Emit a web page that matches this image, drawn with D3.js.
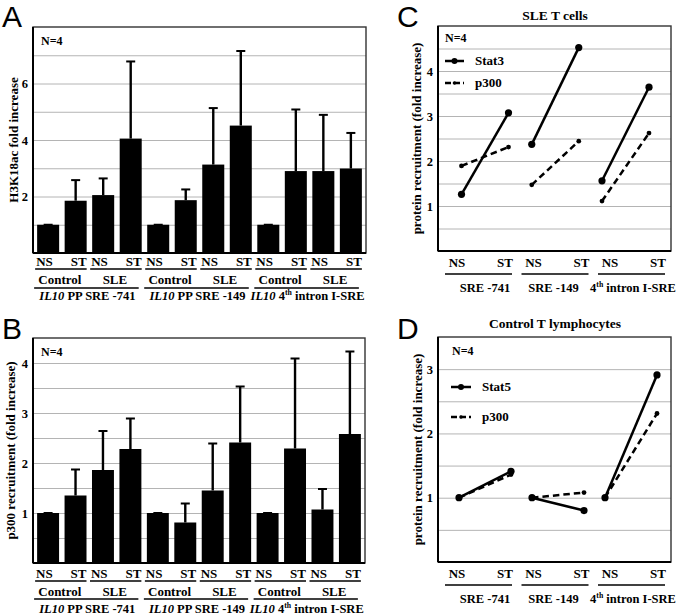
<!DOCTYPE html>
<html><head><meta charset="utf-8">
<script src="https://cdn.jsdelivr.net/npm/d3@7"></script>
<style>body{margin:0;background:#fff} svg{display:block}</style>
</head><body><svg id="chart" width="680" height="615"></svg>
<script>
// ---------- DATA ----------
const barLabels = ["NS","ST","NS","ST","NS","ST","NS","ST","NS","ST","NS","ST"];
const conditions = ["Control","SLE","Control","SLE","Control","SLE"];
const gene = "IL10";
const regionsAB = ["PP SRE -741","PP SRE -149","4th intron I-SRE"];
const regionsCD = ["SRE -741","SRE -149","4th intron I-SRE"];
const pointLabels = ["NS","ST"];

const h3k18acMean = [1.00, 1.85, 2.05, 4.05, 1.00, 1.87, 3.13, 4.51, 1.00, 2.90, 2.90, 2.99];
const h3k18acErr  = [0.00, 0.73, 0.59, 2.73, 0.00, 0.38, 2.00, 2.64, 0.00, 2.18, 1.99, 1.26];
const h3k18acTicks = [2, 4, 6];

const p300BarMean = [1.00, 1.35, 1.86, 2.28, 1.00, 0.81, 1.45, 2.41, 1.00, 2.29, 1.07, 2.58];
const p300BarErr  = [0.00, 0.52, 0.78, 0.61, 0.00, 0.38, 0.94, 1.12, 0.00, 1.80, 0.41, 1.65];
const p300BarTicks = [1, 2, 3, 4];

const sleStat3 = [1.26, 3.07, 2.37, 4.52, 1.56, 3.64];
const sleP300  = [1.89, 2.31, 1.47, 2.44, 1.11, 2.62];
const sleTicks = [1, 2, 3, 4];

const ctrlStat5 = [1.00, 1.41, 1.00, 0.80, 1.00, 2.91];
const ctrlP300  = [1.00, 1.36, 1.00, 1.08, 1.00, 2.31];
const ctrlTicks = [1, 2, 3];

// ---------- DRAWING ----------
const svg = d3.select("#chart");
const SERIF = "'Liberation Serif','Times New Roman',serif";
const SANS = "'Liberation Sans',Arial,Helvetica,sans-serif";

function txt(g, x, y, s, size, anchor) {
  return g.append("text").attr("x", x).attr("y", y).text(s)
    .attr("font-family", SERIF).attr("font-weight", "bold")
    .attr("font-size", size).attr("text-anchor", anchor || "middle").attr("fill", "#000");
}
function regionText(g, x, y, s, size, withGene) {
  const t = g.append("text").attr("x", x).attr("y", y)
    .attr("font-family", SERIF).attr("font-weight", "bold")
    .attr("font-size", size).attr("text-anchor", "middle").attr("fill", "#000");
  if (withGene) {
    t.append("tspan").attr("font-style", "italic").text(gene + " ");
  }
  const m = s.match(/^(\d+)th (.*)$/);
  if (m) {
    t.append("tspan").text(m[1]);
    t.append("tspan").attr("font-size", size * 0.62).attr("dy", -5).text("th");
    t.append("tspan").attr("dy", 5).text(" " + m[2]);
  } else {
    t.append("tspan").text(s);
  }
  return t;
}
function hline(g, x1, x2, y, w) {
  g.append("line").attr("x1", x1).attr("x2", x2).attr("y1", y).attr("y2", y)
    .attr("stroke", "#000").attr("stroke-width", w || 1.5);
}
function letter(x, y, s) {
  svg.append("text").attr("x", x).attr("y", y).text(s)
    .attr("font-family", SANS).attr("font-size", 30).attr("fill", "#000");
}
function frame(g, l, t, r, b) {
  g.append("rect").attr("x", l).attr("y", t).attr("width", r - l).attr("height", b - t)
    .attr("fill", "none").attr("stroke", "#333").attr("stroke-width", 1.4);
  g.append("line").attr("x1", l).attr("x2", l).attr("y1", t).attr("y2", b).attr("stroke", "#000").attr("stroke-width", 2);
  g.append("line").attr("x1", l).attr("x2", r).attr("y1", b).attr("y2", b).attr("stroke", "#000").attr("stroke-width", 2);
}
function yAxes(g, y, l, r, ymax, step, ticks) {
  g.append("g").attr("transform", `translate(${l},0)`)
    .call(d3.axisLeft(y).tickValues(d3.range(step, ymax - 1e-9, step)).tickSize(-(r - l)).tickFormat(""))
    .call(a => a.select(".domain").remove())
    .call(a => a.selectAll("line").attr("stroke", "#b4b4b4").attr("stroke-width", 1));
  g.append("g").attr("transform", `translate(${l},0)`)
    .call(d3.axisLeft(y).tickValues(ticks).tickSize(0).tickPadding(5).tickFormat(d3.format("d")))
    .call(a => a.select(".domain").remove())
    .call(a => a.selectAll("text").attr("font-family", SERIF).attr("font-weight", "bold")
      .attr("font-size", 12.5).attr("fill", "#000"));
}
function yLabel(g, x, y, s) {
  g.append("text").attr("transform", `translate(${x},${y}) rotate(-90)`).text(s)
    .attr("font-family", SERIF).attr("font-weight", "bold").attr("font-size", 13)
    .attr("text-anchor", "middle").attr("fill", "#000");
}

function barPanel(o) {
  const g = svg.append("g");
  const y = d3.scaleLinear().domain([0, o.ymax]).range([o.b, o.t]);
  const x = d3.scaleBand().domain(d3.range(o.mean.length)).range([o.l, o.r])
    .paddingInner(0.2).paddingOuter(0.15);
  const bw = x.bandwidth();
  yAxes(g, y, o.l, o.r, o.ymax, o.step, o.ticks);
  g.selectAll("rect.bar").data(o.mean).join("rect").attr("class", "bar")
    .attr("x", (d, i) => x(i)).attr("y", d => y(d)).attr("width", bw)
    .attr("height", d => o.b - y(d)).attr("fill", "#000");
  const eg = g.selectAll("g.err").data(o.mean).join("g").attr("class", "err");
  eg.append("line").attr("x1", (d, i) => x(i) + bw / 2).attr("x2", (d, i) => x(i) + bw / 2)
    .attr("y1", d => y(d)).attr("y2", (d, i) => y(d + o.err[i]))
    .attr("stroke", "#000").attr("stroke-width", 2.4);
  eg.append("line").attr("x1", (d, i) => x(i) + bw / 2 - 4.5).attr("x2", (d, i) => x(i) + bw / 2 + 4.5)
    .attr("y1", (d, i) => y(d + o.err[i])).attr("y2", (d, i) => y(d + o.err[i]))
    .attr("stroke", "#000").attr("stroke-width", 2);
  frame(g, o.l, o.t, o.r, o.b);
  txt(g, o.l + 8, o.t + 18, "N=4", 12, "start");
  yLabel(g, o.labX, (o.t + o.b) / 2, o.yLabel);
  // x labels
  barLabels.forEach((s, i) => {
    if (i % 2 === 0) txt(g, x(i) - 1, o.b + o.off[0], s, 13, "start");
    else txt(g, x(i) + bw, o.b + o.off[0], s, 13, "end");
  });
  conditions.forEach((s, p) => {
    const x1 = x(2 * p), x2 = x(2 * p + 1) + bw;
    hline(g, x1 - 2, x2, o.b + o.off[1]);
    txt(g, (x1 + x2) / 2 - 2, o.b + o.off[2], s, 13);
  });
  regionsAB.forEach((s, k) => {
    const x1 = x(4 * k), x2 = x(4 * k + 3) + bw;
    hline(g, x1 - 3, x2 - 3, o.b + o.off[3]);
    regionText(g, (x1 + x2) / 2 - 2, o.b + o.off[4], s, 12.5, true);
  });
}

function linePanel(o) {
  const g = svg.append("g");
  const y = d3.scaleLinear().domain([0, o.ymax]).range([o.b, o.t]);
  const gx = d3.scalePoint().domain(d3.range(regionsCD.length)).range(o.groupRange);
  const px = i => gx(Math.floor(i / 2)) + (i % 2 === 0 ? -o.half : o.half);
  const lx = d3.scalePoint().domain(d3.range(regionsCD.length)).range([481, 634]);
  yAxes(g, y, o.l, o.r, o.ymax, 0.5, o.ticks);
  frame(g, o.l, o.t, o.r, o.b);
  // title
  txt(svg, 555, o.titleY, o.title, 13.5);
  txt(g, o.l + o.nX, o.t + o.nY, "N=4", 12, "start");
  yLabel(g, o.labX, (o.t + o.b) / 2, "protein recruitment (fold increase)");
  const series = [
    { v: o.s1, dash: null, r: 3.6, name: o.s1name, ly: o.legY[0] },
    { v: o.s2, dash: "6.5,4", r: 2.4, name: "p300", ly: o.legY[1] }
  ];
  series.forEach(s => {
    regionsCD.forEach((r, k) => {
      const a = 2 * k, b = 2 * k + 1;
      g.append("line").attr("x1", px(a)).attr("x2", px(b))
        .attr("y1", y(s.v[a])).attr("y2", y(s.v[b]))
        .attr("stroke", "#000").attr("stroke-width", 2.5)
        .attr("stroke-dasharray", s.dash);
      [a, b].forEach(i => g.append("circle").attr("cx", px(i)).attr("cy", y(s.v[i]))
        .attr("r", s.r).attr("fill", "#000"));
    });
    // legend
    g.append("line").attr("x1", o.l + o.legX[0]).attr("x2", o.l + o.legX[1])
      .attr("y1", o.t + s.ly).attr("y2", o.t + s.ly)
      .attr("stroke", "#000").attr("stroke-width", 2.5).attr("stroke-dasharray", s.dash ? "6,3" : null);
    g.append("circle").attr("cx", o.l + (o.legX[0] + o.legX[1]) / 2).attr("cy", o.t + s.ly)
      .attr("r", s.r - 0.6).attr("fill", "#000");
    txt(g, o.l + o.legX[2], o.t + s.ly + 4, s.name, 13, "start");
  });
  // x labels
  regionsCD.forEach((s, k) => {
    const c = lx(k);
    txt(g, c - 24, o.b + 16, pointLabels[0], 13);
    txt(g, c + 24, o.b + 16, pointLabels[1], 13);
    hline(g, c - 36, c + 31, o.b + 23);
    regionText(g, c + (k === 0 ? 4 : k === 1 ? -4 : -1), o.b + 41, s, 12.5, false);
  });
}

letter(2, 27, "A");
letter(2, 339, "B");
letter(397, 27, "C");
letter(397, 339, "D");

barPanel({ l: 33, r: 366, t: 27, b: 253, ymax: 8, step: 1, ticks: h3k18acTicks,
  mean: h3k18acMean, err: h3k18acErr, yLabel: "H3K18ac fold increase", labX: 18,
  off: [13, 16, 31, 35, 47] });
barPanel({ l: 33, r: 365, t: 338, b: 563, ymax: 4.5, step: 0.5, ticks: p300BarTicks,
  mean: p300BarMean, err: p300BarErr, yLabel: "p300 recruitment (fold increase)", labX: 15,
  off: [15, 18, 33, 36, 50] });

linePanel({ l: 438, r: 671, t: 26, b: 251, ymax: 5, ticks: sleTicks, title: "SLE T cells",
  titleY: 20, nX: 7, nY: 16, labX: 421, groupRange: [485, 625.5], half: 23.5,
  s1: sleStat3, s1name: "Stat3", s2: sleP300, legY: [35, 57], legX: [7, 26, 37] });
linePanel({ l: 438, r: 671, t: 337, b: 562, ymax: 3.5, ticks: ctrlTicks, title: "Control T lymphocytes",
  titleY: 328, nX: 14, nY: 18, labX: 422, groupRange: [485, 631], half: 26,
  s1: ctrlStat5, s1name: "Stat5", s2: ctrlP300, legY: [50, 80], legX: [13, 33, 44] });
</script></body></html>
